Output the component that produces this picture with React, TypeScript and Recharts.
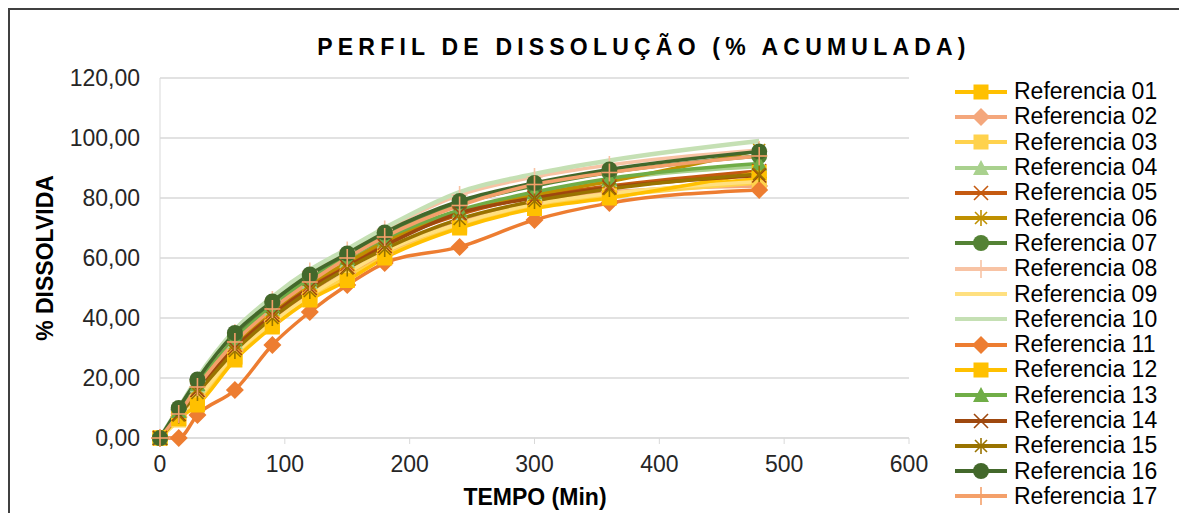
import React from 'react'
import { LineChart, Line, XAxis, YAxis, CartesianGrid } from 'recharts'

const TIMES = [0, 15, 30, 60, 90, 120, 150, 180, 240, 300, 360, 480]

const NAMES = [
  'Referencia 01', 'Referencia 02', 'Referencia 03', 'Referencia 04', 'Referencia 05',
  'Referencia 06', 'Referencia 07', 'Referencia 08', 'Referencia 09', 'Referencia 10',
  'Referencia 11', 'Referencia 12', 'Referencia 13', 'Referencia 14', 'Referencia 15',
  'Referencia 16', 'Referencia 17',
]

const REF01 = [0, 6.5, 12, 27, 38, 47, 54, 61, 71, 77.5, 81, 86.5]
const REF02 = [0, 7, 14, 29, 39, 48, 55, 61.5, 72, 78.5, 82, 84]
const REF03 = [0, 6, 12, 27, 37.5, 46.5, 53.5, 60.5, 70.5, 77, 80.5, 85]
const REF04 = [0, 8.5, 17.5, 32, 43, 52, 59, 65.5, 75, 81.5, 86, 90.5]
const REF05 = [0, 8, 16, 31, 42, 51, 58, 65, 74.5, 80.5, 84, 89]
const REF06 = [0, 8, 16.5, 31.5, 42.5, 51.5, 58.5, 65.5, 75, 81, 85.5, 96]
const REF07 = [0, 9.5, 19, 34, 45, 54, 61, 68, 78, 84, 88.5, 94]
const REF08 = [0, 9, 19, 35, 46, 55.5, 62.5, 69.5, 81, 87, 91, 96]
const REF09 = [0, 6, 13, 28, 38.5, 47.5, 55, 62, 71.5, 78, 81.5, 85.5]
const REF10 = [0, 10, 20, 36, 47, 56, 63, 70, 82, 88, 92.5, 99]
const REF11 = [0, 0, 7.7, 16, 31, 42, 51, 58.3, 63.7, 72.7, 78.3, 82.7]
const REF12 = [0, 6.5, 11, 26, 37, 46, 52.5, 60, 70, 76.5, 80, 88.5]
const REF13 = [0, 9, 18, 33, 44, 53, 60, 66.5, 76, 82, 86.5, 91.5]
const REF14 = [0, 8, 16, 30, 41, 50, 57, 64, 75, 80, 83.5, 87.5]
const REF15 = [0, 7.5, 15, 29, 40, 49, 56.5, 63, 73, 79, 83, 88]
const REF16 = [0, 10, 19.5, 35, 45.5, 54.5, 61.5, 68.5, 79, 85, 89.5, 95.5]
const REF17 = [0, 8, 17, 32, 43, 52, 60, 67, 77.5, 84.5, 88.5, 94]

const VALUES = [REF01, REF02, REF03, REF04, REF05, REF06, REF07, REF08, REF09,
  REF10, REF11, REF12, REF13, REF14, REF15, REF16, REF17]

const X_TICKS = [0, 100, 200, 300, 400, 500, 600]
const Y_TICKS = [0, 20, 40, 60, 80, 100, 120]

// colour / marker per series (Excel-ish theme)
const STYLES = [
  { color: '#FFC000', marker: 'square' },
  { color: '#F4A77C', marker: 'diamond' },
  { color: '#FFD24D', marker: 'square' },
  { color: '#A9D18E', marker: 'triangle' },
  { color: '#C55A11', marker: 'x' },
  { color: '#BF9000', marker: 'star' },
  { color: '#548235', marker: 'circle' },
  { color: '#F8C3A4', marker: 'plus' },
  { color: '#FFE080', marker: 'none' },
  { color: '#C5E0B4', marker: 'none' },
  { color: '#ED7D31', marker: 'diamond' },
  { color: '#FFC000', marker: 'square' },
  { color: '#70AD47', marker: 'triangle' },
  { color: '#9E480E', marker: 'x' },
  { color: '#997300', marker: 'star' },
  { color: '#43682B', marker: 'circle' },
  { color: '#F4A06A', marker: 'plus' },
]

const FONT = '"Liberation Sans", Arial, sans-serif'

const rows = TIMES.map((t, i) => {
  const r: any = { t }
  VALUES.forEach((v, s) => { r['s' + s] = v[i] })
  return r
})

function Marker({ shape, cx, cy, color }: any) {
  if (cx == null || cy == null) return null
  switch (shape) {
    case 'square':
      return <rect x={cx - 7.5} y={cy - 7.5} width={15} height={15} fill={color} />
    case 'diamond':
      return <polygon points={`${cx},${cy - 9} ${cx + 9},${cy} ${cx},${cy + 9} ${cx - 9},${cy}`} fill={color} />
    case 'triangle':
      return <polygon points={`${cx},${cy - 8} ${cx + 8},${cy + 7} ${cx - 8},${cy + 7}`} fill={color} />
    case 'circle':
      return <circle cx={cx} cy={cy} r={8} fill={color} />
    case 'x':
      return (
        <g stroke={color} strokeWidth={1.6}>
          <line x1={cx - 7} y1={cy - 7} x2={cx + 7} y2={cy + 7} />
          <line x1={cx - 7} y1={cy + 7} x2={cx + 7} y2={cy - 7} />
        </g>
      )
    case 'star':
      return (
        <g stroke={color} strokeWidth={1.6}>
          <line x1={cx - 6} y1={cy - 6} x2={cx + 6} y2={cy + 6} />
          <line x1={cx - 6} y1={cy + 6} x2={cx + 6} y2={cy - 6} />
          <line x1={cx} y1={cy - 8} x2={cx} y2={cy + 8} />
        </g>
      )
    case 'plus':
      return (
        <g stroke={color} strokeWidth={1.6}>
          <line x1={cx} y1={cy - 9} x2={cx} y2={cy + 9} />
          <line x1={cx - 8} y1={cy} x2={cx + 8} y2={cy} />
        </g>
      )
    default:
      return null
  }
}

const LegendBox = () => (
  <div style={{ position: 'absolute', left: 945, top: 69, width: 230, fontFamily: FONT, fontSize: 23, color: '#000' }}>
    {NAMES.map((n, i) => (
      <div key={n} style={{ display: 'flex', alignItems: 'center', height: 25.3 }}>
        <svg width={52} height={24} style={{ marginRight: 7 }}>
          <line x1={0} y1={12} x2={52} y2={12} stroke={STYLES[i].color} strokeWidth={4} />
          <Marker shape={STYLES[i].marker} cx={26} cy={12} color={STYLES[i].color} />
        </svg>
        <span style={{ lineHeight: '25px' }}>{n}</span>
      </div>
    ))}
  </div>
)

const fmtY = (v: number) => v.toFixed(2).replace('.', ',')

export default function App() {
  return (
    <div style={{
      position: 'relative', width: 1177, height: 503,
      borderTop: '2px solid #404040', borderLeft: '2px solid #404040', background: '#fff',
    }}>
      <style>{'body{overflow:hidden}'}</style>
      <LineChart width={1177} height={503} data={rows} margin={{ top: 68, right: 278, bottom: 35, left: 90 }}>
        <CartesianGrid vertical={false} stroke="#D9D9D9" strokeWidth={1.5} />
        <XAxis
          dataKey="t"
          type="number"
          domain={[0, 600]}
          ticks={X_TICKS}
          height={40}
          stroke="#D9D9D9"
          tickSize={6}
          tickMargin={12}
          tick={{ fontSize: 23, fill: '#262626', fontFamily: FONT }}
        />
        <YAxis
          domain={[0, 120]}
          ticks={Y_TICKS}
          width={60}
          stroke="#D9D9D9"
          tickLine={false}
          tickFormatter={fmtY}
          tickMargin={14}
          tick={{ fontSize: 23, fill: '#262626', fontFamily: FONT }}
        />
        {STYLES.map((st, s) => (
          <Line
            key={s}
            name={NAMES[s]}
            dataKey={'s' + s}
            type="monotone"
            stroke={st.color}
            strokeWidth={s === 9 ? 4.5 : 3.5}
            dot={(p: any) => <Marker key={`d${s}-${p.index}`} shape={st.marker} cx={p.cx} cy={p.cy} color={st.color} />}
            activeDot={false}
            isAnimationActive={false}
          />
        ))}
      </LineChart>
      <LegendBox />
      <div style={{
        position: 'absolute', left: 0, width: 1268, top: 24, textAlign: 'center',
        fontFamily: FONT, fontWeight: 'bold', fontSize: 23, letterSpacing: 5.2, color: '#000',
      }}>
        PERFIL DE DISSOLUÇÃO (% ACUMULADA)
      </div>
      <div style={{
        position: 'absolute', left: 35, top: 248, transform: 'translate(-50%, -50%) rotate(-90deg)',
        fontFamily: FONT, fontWeight: 'bold', fontSize: 23, whiteSpace: 'nowrap', color: '#000',
      }}>
        % DISSOLVIDA
      </div>
      <div style={{
        position: 'absolute', left: 525, top: 487, transform: 'translate(-50%, -50%)',
        fontFamily: FONT, fontWeight: 'bold', fontSize: 23, whiteSpace: 'nowrap', color: '#000',
      }}>
        TEMPO (Min)
      </div>
    </div>
  )
}
